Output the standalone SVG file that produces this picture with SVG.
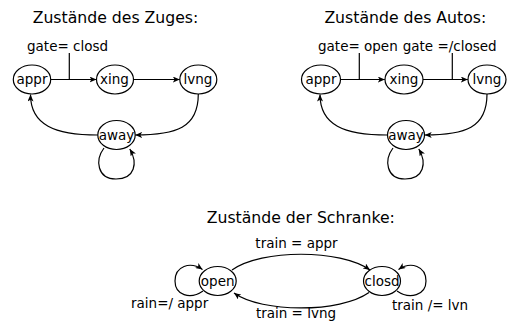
<svg xmlns="http://www.w3.org/2000/svg" width="507" height="332" viewBox="0 0 507 332">
<defs>
<marker id="ah" markerWidth="8" markerHeight="6" refX="7" refY="3" orient="auto" markerUnits="userSpaceOnUse">
<path d="M0,0 L7,3 L0,6 L1.8,3 z" fill="#000"/>
</marker>
<style>
.n ellipse{fill:#fff;stroke:#000;stroke-width:1.2}
.n text,.lbl{font-family:"DejaVu Sans",sans-serif;font-size:13.5px;fill:#000}
.n text{text-anchor:middle}
.t{font-family:"DejaVu Sans",sans-serif;font-size:15.7px;fill:#000;text-anchor:middle}
.c path,.c line{fill:none;stroke:#000;stroke-width:1.2}
.a{marker-end:url(#ah)}
</style>
</defs>
<rect width="507" height="332" fill="#fff"/>
<text class="t" x="115.5" y="23.3">Zustände des Zuges:</text>
<text class="t" x="405.3" y="23.3">Zustände des Autos:</text>
<text class="t" x="300.8" y="223.3">Zustände der Schranke:</text>
<g id="connectors" class="c">
<line x1="69.3" y1="53" x2="69.3" y2="79.5"/>
<line class="a" x1="50.7" y1="79.5" x2="96.5" y2="79.5"/>
<line class="a" x1="133.7" y1="79.5" x2="179.8" y2="79.5"/>
<path class="a" d="M198.3,94 C198.3,128 176,135 135.2,135"/>
<path class="a" d="M97.8,135 C55,135 30.5,125 30.5,94.5"/>
<path class="a" d="M104,148 C95,160 97,179 116,179 C135,179 138,163 129.8,149"/>
<line x1="359.3" y1="53" x2="359.3" y2="79.5"/>
<line x1="452.3" y1="53" x2="452.3" y2="79.5"/>
<line class="a" x1="340.5" y1="79.5" x2="384.8" y2="79.5"/>
<line class="a" x1="423" y1="79.5" x2="467.8" y2="79.5"/>
<path class="a" d="M487,94 C487,128 465,135 424.7,135"/>
<path class="a" d="M387.3,135 C344,135 320,125 320,94.5"/>
<path class="a" d="M393,148 C384,160 386,179 405,179 C424,179 427,163 418.8,149"/>
<path class="a" d="M232,270 C262,249 340,249 370,270"/>
<path class="a" d="M369,292.5 C340,313 262,313 234,293"/>
<path class="a" d="M203,291 C190,300 175,295 175,281 C175,266 190,261 202.5,269.5"/>
<path class="a" d="M397,291 C410,300 426,295 426,281 C426,266 411,261 398.5,269.5"/>
</g>
<text class="lbl" x="27" y="50.7">gate= closd</text>
<text class="lbl" x="318" y="50.7">gate= open</text>
<text class="lbl" x="402.7" y="50.7">gate =/closed</text>
<text class="lbl" x="296.5" y="248.3" text-anchor="middle">train = appr</text>
<text class="lbl" x="296" y="318.3" text-anchor="middle">train = lvng</text>
<text class="lbl" x="131" y="308.3">rain=/ appr</text>
<text class="lbl" x="392" y="310">train /= lvn</text>
<g id="z-appr" class="n"><ellipse cx="32" cy="79.5" rx="18.7" ry="14.5"/><text x="32" y="84">appr</text></g>
<g id="z-xing" class="n"><ellipse cx="115" cy="79.5" rx="18.5" ry="14.5"/><text x="114.5" y="84">xing</text></g>
<g id="z-lvng" class="n"><ellipse cx="198.3" cy="79.5" rx="18.5" ry="14.5"/><text x="198" y="84">lvng</text></g>
<g id="z-away" class="n"><ellipse cx="116.5" cy="135" rx="18.7" ry="14.5"/><text x="116.5" y="139.5">away</text></g>
<g id="a-appr" class="n"><ellipse cx="321" cy="79.5" rx="19.5" ry="14.5"/><text x="321" y="84">appr</text></g>
<g id="a-xing" class="n"><ellipse cx="404" cy="79.5" rx="19" ry="14.5"/><text x="404" y="84">xing</text></g>
<g id="a-lvng" class="n"><ellipse cx="487" cy="79.5" rx="19" ry="14.5"/><text x="487" y="84">lvng</text></g>
<g id="a-away" class="n"><ellipse cx="406" cy="135" rx="18.5" ry="14.5"/><text x="406" y="139.5">away</text></g>
<g id="s-open" class="n"><ellipse cx="217.7" cy="281" rx="18.5" ry="14.5"/><text x="217.7" y="285.5">open</text></g>
<g id="s-closd" class="n"><ellipse cx="382" cy="281" rx="18.5" ry="14.5"/><text x="382" y="285.5">closd</text></g>
</svg>
